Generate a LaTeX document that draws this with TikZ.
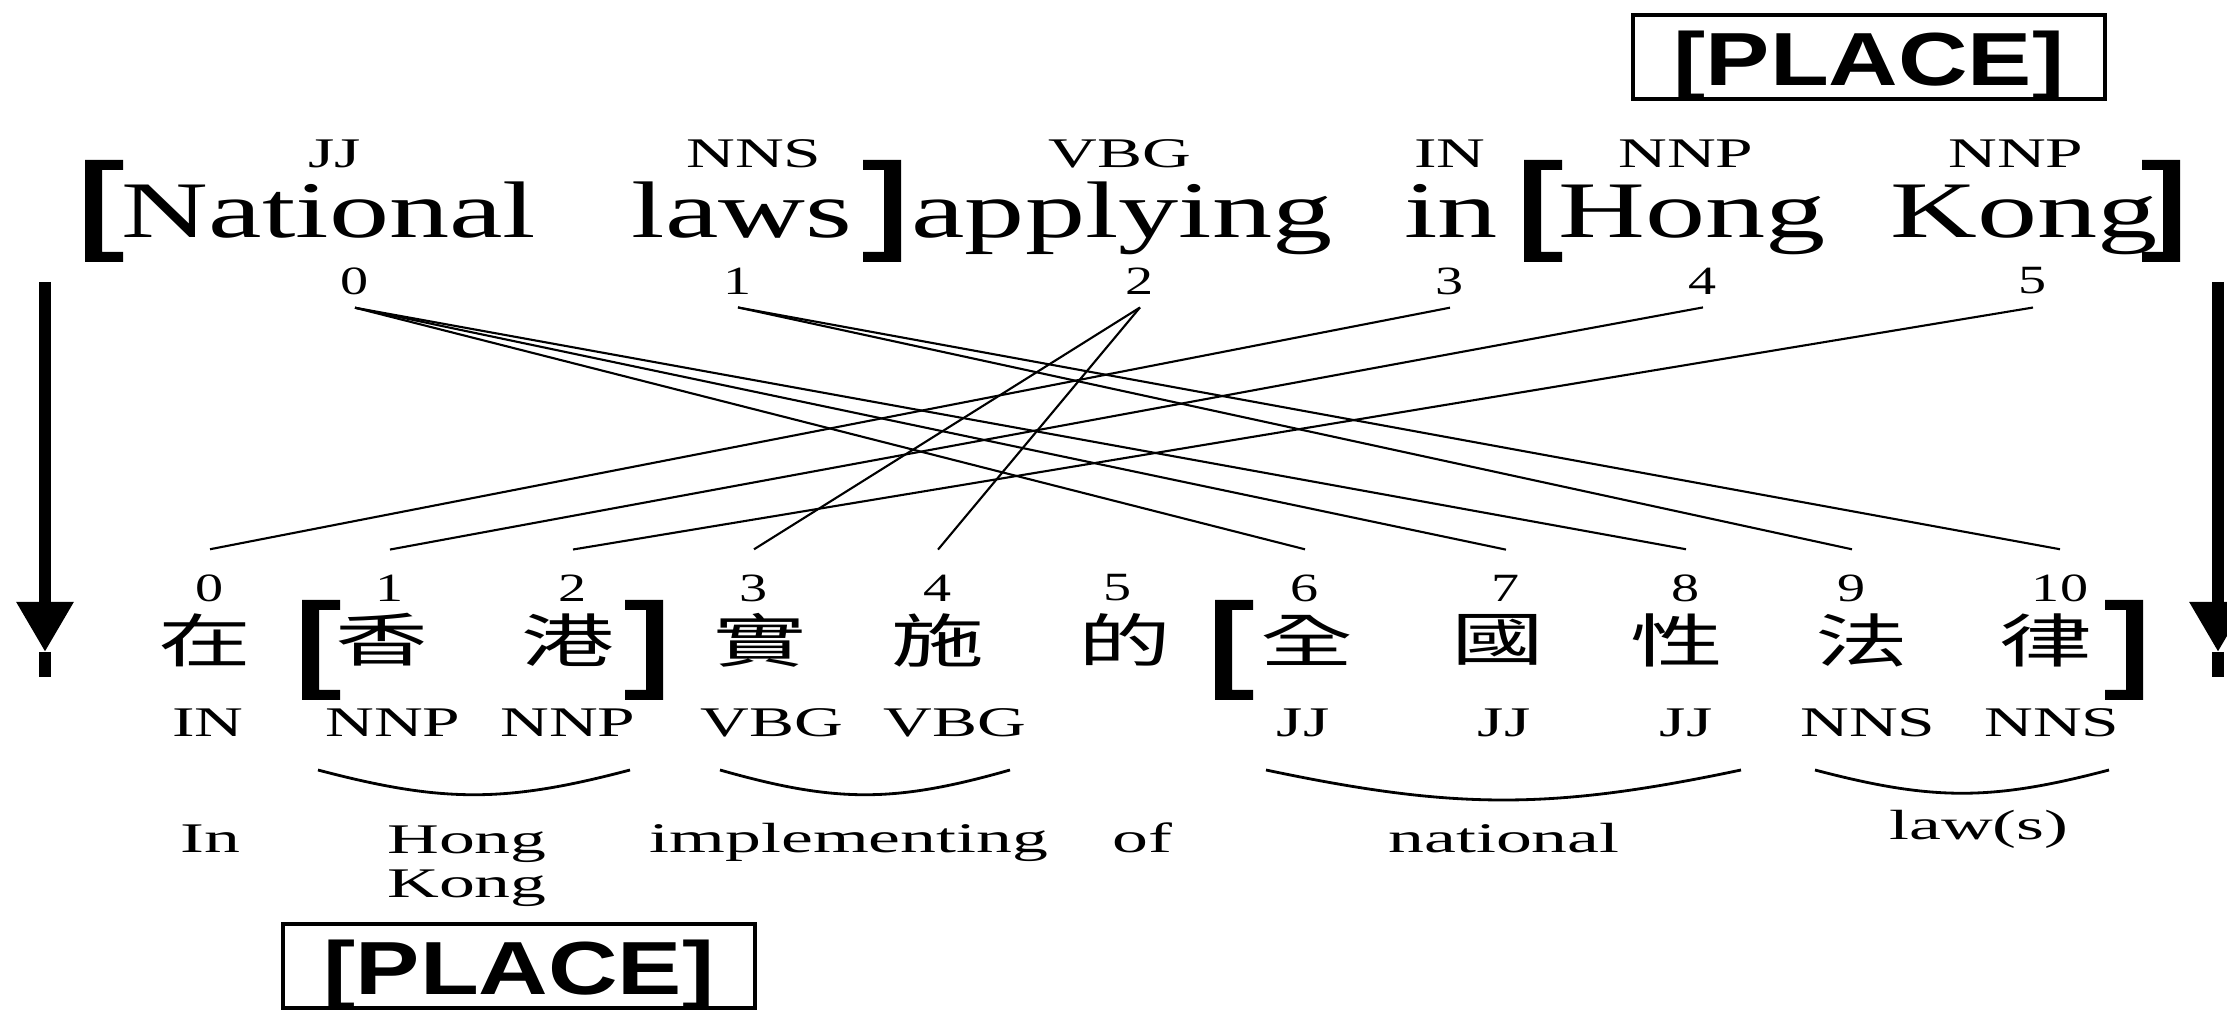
\documentclass[tikz,border=0pt]{standalone}
\usepackage{fontspec}
\setmainfont{Liberation Serif}
\newfontfamily\wordfont[FakeStretch=1.5]{Liberation Serif}
\newfontfamily\tagfont[FakeStretch=1.6]{Liberation Serif}
\newfontfamily\glossfont[FakeStretch=1.7]{Liberation Serif}
\newfontfamily\numfont[FakeStretch=1.4]{Liberation Serif}
\newfontfamily\cjkfont[FakeStretch=1.6]{Noto Sans CJK TC}
\newfontfamily\placefont[FakeStretch=1.28]{Liberation Sans}
\usetikzlibrary{arrows.meta}

% square brackets: outer x, top y, bottom y
\newcommand{\lbrk}[3]{\fill (#1,#2) -- ++(38,0) -- ++(0,10) -- ++(-21,0) |- (#1+38,#3-10) -- ++(0,10) -- (#1,#3) -- cycle;}
\newcommand{\rbrk}[3]{\fill (#1,#2) -- ++(-38,0) -- ++(0,10) -- ++(21,0) |- (#1-38,#3-10) -- ++(0,10) -- (#1,#3) -- cycle;}

\begin{document}
\begin{tikzpicture}[x=0.01cm, y=-0.01cm,
    word/.style={inner sep=0pt, anchor=base, font=\wordfont\fontsize{22.8}{27}\selectfont},
    tag/.style={inner sep=0pt, anchor=base, font=\tagfont\fontsize{12}{14}\selectfont},
    gloss/.style={inner sep=0pt, anchor=base, align=center, font=\glossfont\fontsize{12}{12.5}\selectfont},
    srcnum/.style={inner xsep=0pt, inner ysep=0.125cm, font=\numfont\fontsize{11.4}{13}\selectfont},
    tgtnum/.style={srcnum, inner ysep=0.245cm},
    hanzi/.style={inner sep=0pt, font=\cjkfont\fontsize{16.5}{18}\selectfont},
    placebox/.style={draw, line width=1pt, minimum width=4.72cm, minimum height=0.84cm, inner sep=0pt,
        text height=0.56cm, text depth=0pt, font=\placefont\bfseries\fontsize{21.4}{26}\selectfont},
    link/.style={line width=0.6pt},
    ubrace/.style={line width=0.8pt},
    sidearrow/.style={line width=0.12cm, -{Triangle[length=0.5cm,width=0.54cm]}},
    stub/.style={line width=0.12cm}]
    \useasboundingbox (0,0) rectangle (2227,1010);
    \clip (0,0) rectangle (2227,1010);

    % English sentence
    \node[placebox] (placetop) at (1869,57) {[PLACE]};
    \node[tag] (p0) at (335,168) {JJ};
    \node[tag] (p1) at (754,168) {NNS};
    \node[tag] (p2) at (1120,168) {VBG};
    \node[tag] (p3) at (1450,168) {IN};
    \node[tag] (p4) at (1686,168) {NNP};
    \node[tag] (p5) at (2016,168) {NNP};
    \node[word] (w0) at (329,238) {National};
    \node[word] (w1) at (742,238) {laws};
    \node[word] (w2) at (1122,238) {applying};
    \node[word] (w3) at (1451,238) {in};
    \node[word] (w4) at (1692,238) {Hong};
    \node[word] (w5) at (2024,238) {Kong};
    \lbrk{85}{160}{262}
    \rbrk{901}{160}{262}
    \lbrk{1524}{160}{262}
    \rbrk{2180}{160}{262}
    \node[srcnum] (s0) at (355,281) {0};
    \node[srcnum] (s1) at (738,281) {1};
    \node[srcnum] (s2) at (1140,281) {2};
    \node[srcnum] (s3) at (1450,281) {3};
    \node[srcnum] (s4) at (1703,281) {4};
    \node[srcnum] (s5) at (2033,281) {5};

    % Chinese sentence
    \node[tgtnum] (t0) at (210,588) {0};
    \node[tgtnum] (t1) at (390,588) {1};
    \node[tgtnum] (t2) at (573,588) {2};
    \node[tgtnum] (t3) at (754,588) {3};
    \node[tgtnum] (t4) at (938,588) {4};
    \node[tgtnum] (t5) at (1118,588) {5};
    \node[tgtnum] (t6) at (1305,588) {6};
    \node[tgtnum] (t7) at (1506,588) {7};
    \node[tgtnum] (t8) at (1686,588) {8};
    \node[tgtnum] (t9) at (1852,588) {9};
    \node[tgtnum] (t10) at (2060,588) {10};
    \node[hanzi] (c0) at (205,640) {在};
    \node[hanzi] (c1) at (382,640) {香};
    \node[hanzi] (c2) at (568,640) {港};
    \node[hanzi] (c3) at (760,640) {實};
    \node[hanzi] (c4) at (938,640) {施};
    \node[hanzi] (c5) at (1125,640) {的};
    \node[hanzi] (c6) at (1307,640) {全};
    \node[hanzi] (c7) at (1498,640) {國};
    \node[hanzi] (c8) at (1677,640) {性};
    \node[hanzi] (c9) at (1862,640) {法};
    \node[hanzi] (c10) at (2046,640) {律};
    \lbrk{302}{600}{700}
    \rbrk{663}{600}{700}
    \lbrk{1215}{600}{700}
    \rbrk{2143}{600}{700}
    \node[tag] (q0) at (208,737) {IN};
    \node[tag] (q1) at (393,737) {NNP};
    \node[tag] (q2) at (568,737) {NNP};
    \node[tag] (q3) at (772,737) {VBG};
    \node[tag] (q4) at (955,737) {VBG};
    \node[tag] (q6) at (1303,737) {JJ};
    \node[tag] (q7) at (1504,737) {JJ};
    \node[tag] (q8) at (1686,737) {JJ};
    \node[tag] (q9) at (1868,737) {NNS};
    \node[tag] (q10) at (2052,737) {NNS};
    \draw[ubrace] (318,770) .. controls (443,803) and (505,803) .. (630,770);
    \draw[ubrace] (720,770) .. controls (836,803) and (894,803) .. (1010,770);
    \draw[ubrace] (1266,770) .. controls (1456,810) and (1551,810) .. (1741,770);
    \draw[ubrace] (1815,770) .. controls (1933,801) and (1991,801) .. (2109,770);
    \node[gloss] (g0) at (210,853) {In};
    \node[gloss] (g1) at (467,897) {Hong\\Kong};
    \node[gloss] (g3) at (849,853) {implementing};
    \node[gloss] (g5) at (1142,853) {of};
    \node[gloss] (g6) at (1504,853) {national};
    \node[gloss] (g9) at (1979,840) {law(s)};
    \node[placebox] (placebot) at (519,966) {[PLACE]};

    % word alignment
    \foreach \a/\b in {0/6,0/7,0/8,1/9,1/10,2/3,2/4,3/0,4/1,5/2}
        \draw[link] (s\a.south) -- (t\b.north);

    % translation direction
    \coordinate (la1) at (45,282);
    \coordinate (la2) at (45,652);
    \coordinate (la3) at (45,677);
    \coordinate (ra1) at (2218,282);
    \coordinate (ra2) at (2218,652);
    \coordinate (ra3) at (2218,677);
    \draw[sidearrow] (la1) -- (la2);
    \draw[stub] (la2) -- (la3);
    \draw[sidearrow] (ra1) -- (ra2);
    \draw[stub] (ra2) -- (ra3);
\end{tikzpicture}
\end{document}
